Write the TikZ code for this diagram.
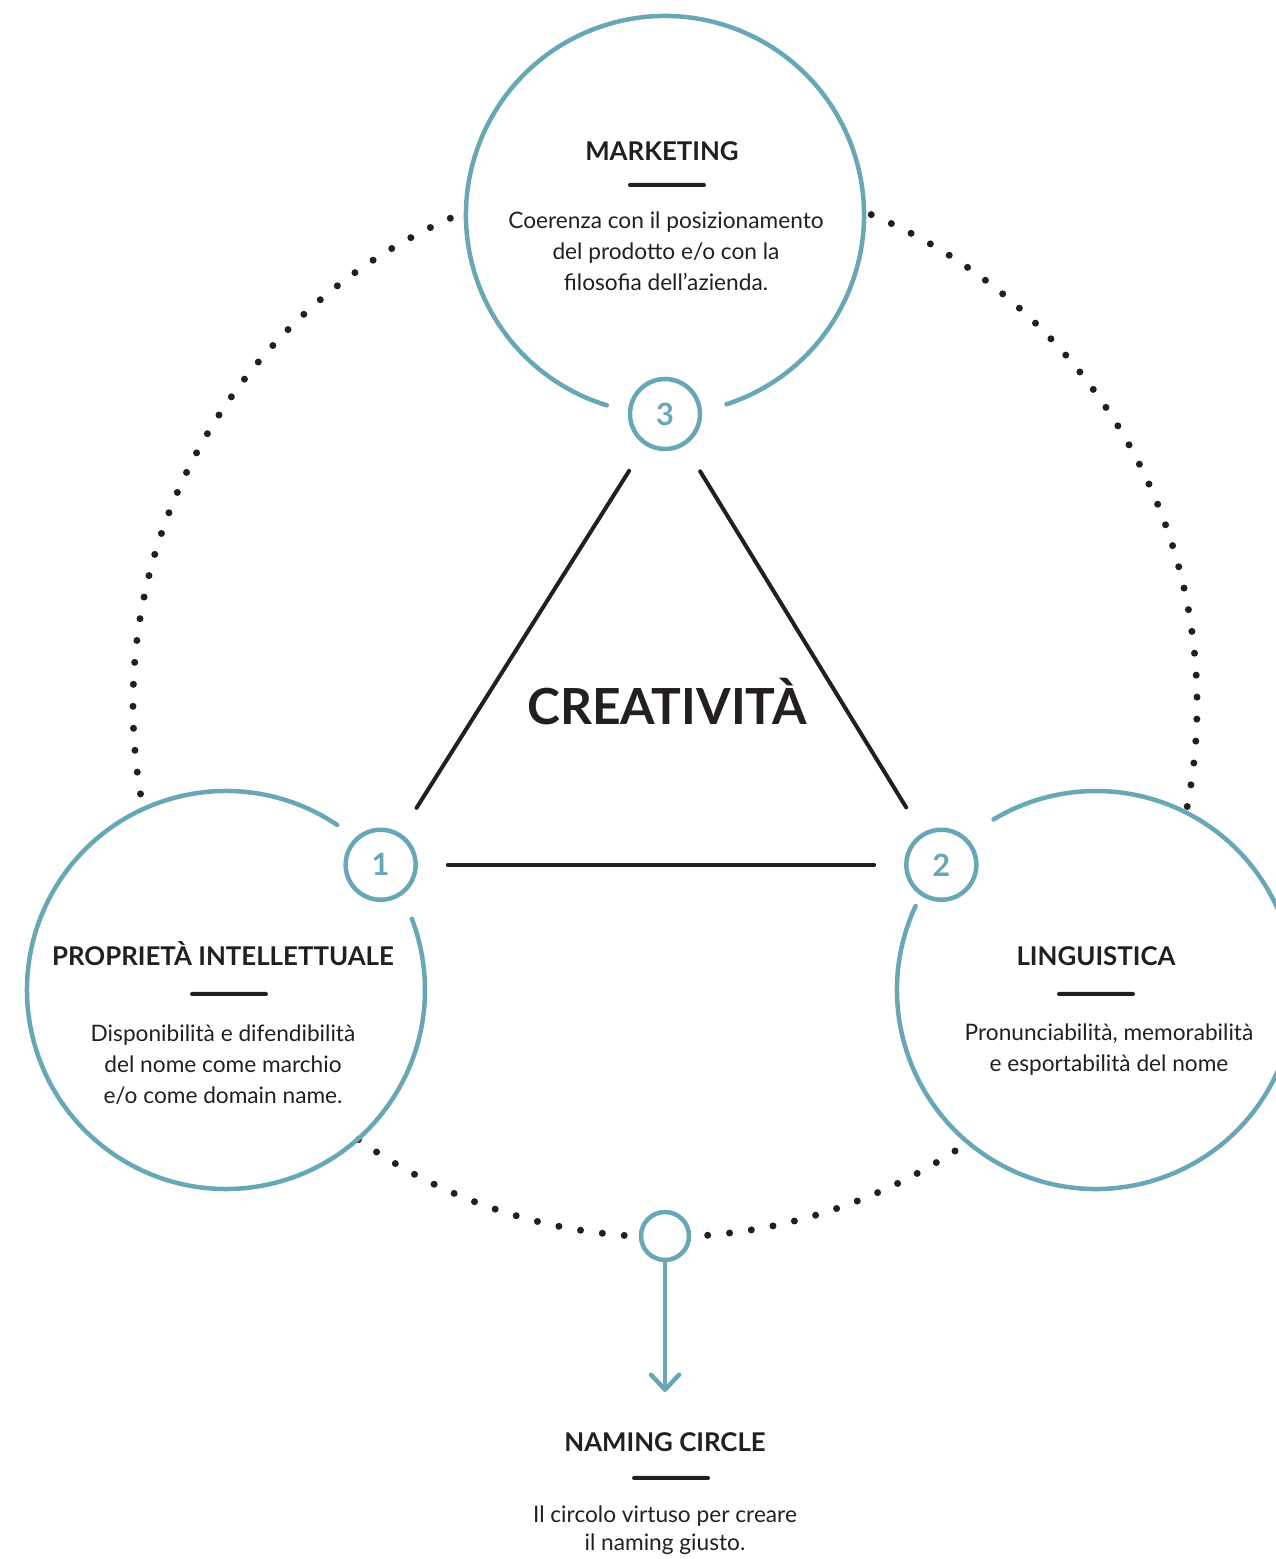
\documentclass[tikz,border=0pt]{standalone}
\usepackage{fontspec}
\setmainfont{Lato}
\usepackage{tikz}
\usetikzlibrary{arrows.meta, positioning}
\definecolor{ncteal}{HTML}{68A8B6}
\definecolor{ncblack}{HTML}{231F20}

\begin{document}
\begin{tikzpicture}[x = 0.2mm, y = 0.2mm,
    bigcircle/.style = {circle, minimum size = 79.6mm, inner sep = 0pt, outer sep = 0pt},
    numcircle/.style = {circle, draw = ncteal, line width = 0.9mm, minimum size = 14mm, inner sep = 0pt,
        text = ncteal, font = \fontsize{17.5}{17.5}\selectfont\bfseries, fill = white},
    tealline/.style = {draw = ncteal, line width = 0.9mm, line cap = round},
    blackline/.style = {draw = ncblack, line width = 0.8mm, line cap = round, shorten < = 6mm, shorten > = 6mm},
    dotring/.style = {draw = ncblack, line width = 1.4mm, line cap = round, dash pattern = on 0pt off 4.4mm},
    heading/.style = {anchor = base, inner sep = 0pt, text = ncblack, font = \fontsize{14.7}{14.7}\selectfont\bfseries},
    bodytext/.style = {anchor = base, inner sep = 0pt, align = center, text = ncblack, font = \fontsize{12.9}{17.9}\selectfont},
    bar/.style = {fill = ncblack, minimum width = 15.6mm, minimum height = 0.8mm, inner sep = 0pt, rounded corners = 0.4mm}]
        \useasboundingbox (0,0) rectangle (1276,1559);
        \clip (0,0) rectangle (1276,1559);
        % Parametri
        \pgfmathsetmacro{\R}{532}
        \coordinate (ring) at (665,854);
        % Anello punteggiato
        \draw[dotring] ([shift={(ring)}]113.8:\R) arc[start angle = 113.8, end angle = 189.7, radius = 106.4mm];
        \draw[dotring] ([shift={(ring)}]234.8:\R) arc[start angle = 234.8, end angle = 266.2, radius = 106.4mm];
        \draw[dotring] ([shift={(ring)}]274.6:\R) arc[start angle = 274.6, end angle = 303.7, radius = 106.4mm];
        \draw[dotring] ([shift={(ring)}]-11:\R) arc[start angle = -11, end angle = 67.3, radius = 106.4mm];
        % Cerchi grandi
        \node[bigcircle] (mkt) at (665,1344) {};
        \node[bigcircle] (prop) at (226,569) {};
        \node[bigcircle] (ling) at (1096,569) {};
        \draw[tealline] (mkt.-72) arc[start angle = -72, end angle = 253, radius = 39.8mm];
        \draw[tealline] (prop.56) arc[start angle = 56, end angle = 381, radius = 39.8mm];
        \draw[tealline] (ling.155) arc[start angle = 155, end angle = 481, radius = 39.8mm];
        % Cerchi numerati
        \node[numcircle] (n3) at (mkt.270) {3};
        \node[numcircle] (n1) at (prop.39) {1};
        \node[numcircle] (n2) at (ling.141) {2};
        % Triangolo della creatività
        \draw[blackline] (n3) -- (n1);
        \draw[blackline] (n3) -- (n2);
        \draw[blackline] (n1) -- (n2);
        \node[anchor = base, inner sep = 0pt, text = ncblack, font = \fontsize{28.3}{28.3}\selectfont\bfseries] (creat) at (667,834) {CREATIVITÀ};
        % Testi dei cerchi
        \node[heading] (mkttitle) at (662,1398) {MARKETING};
        \node[bar] (mktbar) at (667,1374) {};
        \node[bodytext] (mkttext) at (666,1268) {Coerenza con il posizionamento\\del prodotto e/o con la\\filosofia dell’azienda.};
        \node[heading] (proptitle) at (223,593) {PROPRIETÀ INTELLETTUALE};
        \node[bar] (propbar) at (229,565) {};
        \node[bodytext] (proptext) at (223,455) {Disponibilità e difendibilità\\del nome come marchio\\e/o come domain name.};
        \node[heading] (lingtitle) at (1096,593) {LINGUISTICA};
        \node[bar] (lingbar) at (1096,565) {};
        \node[bodytext] (lingtext) at (1109,487) {Pronunciabilità, memorabilità\\e esportabilità del nome};
        % Naming circle
        \node[circle, draw = ncteal, line width = 0.9mm, minimum size = 9.6mm, inner sep = 0pt] (loop) at (665,323) {};
        \coordinate (namtip) at (665,167);
        \draw[tealline, -{Straight Barb[length = 3mm, width = 5.6mm, round]}] (loop) -- (namtip);
        \node[heading] (namtitle) at (665,107) {NAMING CIRCLE};
        \node[bar] (nambar) at (671,81) {};
        \node[bodytext, font = \fontsize{12.9}{15.9}\selectfont] (namtext) at (665,9) {Il circolo virtuso per creare\\il naming giusto.};
    \end{tikzpicture}
\end{document}
